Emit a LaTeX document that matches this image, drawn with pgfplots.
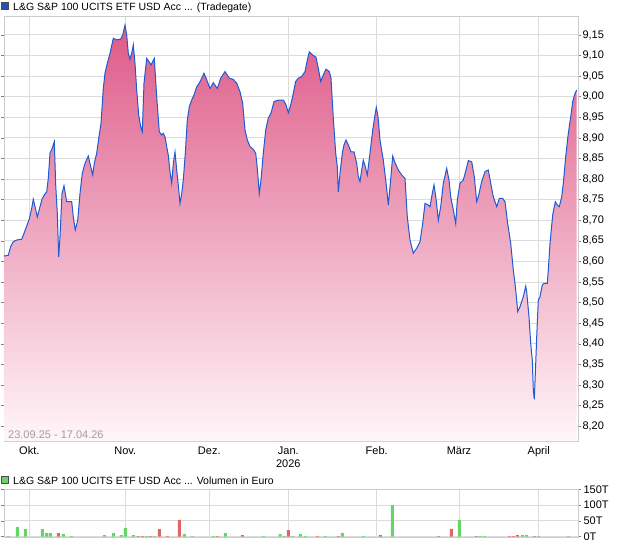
\documentclass[border=0pt]{standalone}
\usepackage{fontspec}
\setmainfont{Liberation Sans}
\usepackage{pgfplots}
\pgfplotsset{compat=1.18}
\definecolor{gridgray}{HTML}{DCDCDC}
\definecolor{framegray}{HTML}{CCCCCC}
\definecolor{linecol}{HTML}{1E5AD2}
\definecolor{pinktop}{HTML}{DE5A88}
\definecolor{pinkbot}{HTML}{FFF6F9}
\definecolor{volgreen}{HTML}{66D466}
\definecolor{volred}{HTML}{E06666}
\definecolor{legblue}{HTML}{1F50C0}
\definecolor{datetext}{HTML}{A0A0A0}
\begin{document}
\begin{tikzpicture}[font=\fontsize{11}{13}\selectfont]
\useasboundingbox (0,0) rectangle (620pt,546pt);
% legend main
\fill[legblue,draw=black!70,line width=0.4pt] (1.5pt,536.5pt) rectangle (8.5pt,543.5pt);
\node[anchor=base west,inner sep=0pt,font=\fontsize{10.5}{12}\selectfont] at (13pt,535.5pt) {L\&G S\&P 100 UCITS ETF USD Acc ... (Tradegate)};
\begin{axis}[
  at={(4pt,105pt)}, anchor=south west, scale only axis,
  width=574pt, height=425pt,
  xmin=4, xmax=578, ymin=8.164, ymax=9.196,
  axis line style={draw=framegray},
  xtick={29.3,125.3,209.3,288.3,376.7,459,538.7},
  xticklabels={Okt.,Nov.,Dez.,{Jan.\\2026},Feb.,März,April},
  xticklabel style={align=center,font=\fontsize{11}{13}\selectfont, yshift=1pt},
  xtick style={draw=none},
  ytick={8.2,8.25,8.3,8.35,8.4,8.45,8.5,8.55,8.6,8.65,8.7,8.75,8.8,8.85,8.9,8.95,9.0,9.05,9.1,9.15},
  yticklabel pos=right,
  /pgf/number format/fixed,
  /pgf/number format/fixed zerofill,
  /pgf/number format/precision=2,
  /pgf/number format/use comma,
  /pgf/number format/assume math mode=true,
  yticklabel style={font=\fontsize{11}{13}\selectfont,anchor=west,xshift=-2pt},
  ytick style={draw=gray,line width=0.5pt},
  major tick length=3pt, tick align=outside,
  grid=major, major grid style={gridgray,line width=0.9pt},
  clip=true,
]
\addplot[draw=none, top color=pinktop, bottom color=pinkbot] coordinates {
(4,8.164)
(4,8.613) (8.3,8.615) (10.7,8.636) (13.3,8.648) (16.7,8.652) (21.7,8.654) (24,8.668) (26.7,8.686)
(29.3,8.703) (31.7,8.729) (33.3,8.751) (35,8.733) (37.3,8.708) (40,8.733) (42.3,8.753) (45,8.764)
(46.7,8.769) (48.3,8.802) (50,8.863) (52.3,8.875) (54.3,8.891) (55.7,8.786) (57.3,8.717) (58.7,8.611)
(60,8.660) (62,8.765) (64,8.784) (66.7,8.745) (69.3,8.745) (71.7,8.745) (73.3,8.708) (75.3,8.676)
(77.7,8.700) (80,8.765) (82.3,8.814) (85,8.838) (88.3,8.856) (90.7,8.830) (92.7,8.810) (94.3,8.838)
(96.7,8.863) (98.7,8.899) (101,8.935) (103.3,9.020) (105,9.057) (107.3,9.081) (110,9.105) (113.3,9.142)
(116.7,9.138) (120.7,9.140) (122.7,9.150) (125,9.174) (126.7,9.150) (128.3,9.105) (130,9.091) (132,9.109)
(133.3,9.126) (135,9.081) (136.7,9.016) (138.7,8.956) (140.7,8.927) (142.3,8.915) (144,9.033) (146.7,9.093)
(149,9.085) (151,9.077) (152.7,9.085) (154.3,9.093) (156.7,9.000) (159.3,8.915) (161.7,8.907) (163.3,8.911)
(165,8.903) (166.7,8.879) (168.3,8.858) (170,8.818) (171.7,8.790) (173.3,8.838) (175,8.866) (176.7,8.822)
(178.3,8.786) (180,8.741) (181.7,8.765) (183.3,8.798) (185.3,8.863) (187.3,8.943) (189.3,8.976) (191.7,8.992)
(194,9.004) (196.7,9.024) (199.3,9.033) (201.7,9.045) (204,9.057) (206.7,9.041) (210,9.020) (213.3,9.034)
(217.3,9.020) (220.7,9.045) (225,9.061) (229.3,9.045) (233.3,9.042) (236.7,9.033) (240,9.012) (242.7,8.984)
(245,8.919) (247.3,8.895) (250,8.879) (253.3,8.872) (255.7,8.863) (257.3,8.826) (259.3,8.765) (261,8.798)
(263.3,8.863) (265.7,8.919) (268.3,8.948) (271,8.960) (274,8.988) (278.3,8.992) (283.3,8.992) (286,8.980)
(288.3,8.961) (290.7,8.980) (293.3,9.008) (295.7,9.037) (298.3,9.045) (301.7,9.049) (305,9.061) (307.3,9.089)
(309.3,9.109) (312.7,9.101) (316,9.096) (318.3,9.069) (320.7,9.037) (323.3,9.053) (326,9.067) (329.3,9.061)
(331,9.045) (333.3,8.948) (335.7,8.863) (337.3,8.830) (338.3,8.769) (340,8.814) (342.3,8.863) (344,8.883)
(346,8.895) (349,8.879) (351,8.866) (354,8.866) (356.7,8.838) (358.3,8.806) (360,8.794) (361.7,8.822)
(363.3,8.846) (365.3,8.830) (367.3,8.810) (370,8.863) (372.7,8.919) (374.7,8.951) (376.3,8.974) (378,8.951)
(380,8.895) (383.3,8.846) (386.7,8.777) (388.3,8.737) (390,8.781) (392.7,8.856) (395,8.840) (398.3,8.822)
(401.7,8.810) (405,8.802) (407.3,8.708) (410,8.652) (413.3,8.620) (416.7,8.632) (420,8.648) (422.7,8.692)
(425,8.741) (428.3,8.737) (430,8.733) (432.3,8.765) (434,8.786) (436,8.753) (438.3,8.700) (440.7,8.733)
(443.3,8.790) (446.7,8.826) (449,8.798) (450.7,8.757) (453.3,8.725) (455.7,8.692) (457.3,8.749) (460,8.790)
(463.3,8.798) (466,8.822) (468.3,8.845) (471.7,8.842) (474.3,8.806) (476.7,8.745) (478.3,8.757) (481.7,8.794)
(485,8.818) (488.3,8.822) (491,8.786) (493.3,8.757) (496.7,8.733) (499.3,8.753) (502.7,8.753) (505,8.745)
(507.7,8.692) (510.7,8.644) (513.3,8.579) (515,8.547) (516.7,8.506) (517.7,8.478) (520,8.490) (523.3,8.514)
(525.7,8.540) (526.7,8.526) (529,8.465) (530.7,8.401) (532.3,8.360) (533.3,8.287) (534.3,8.265) (535.7,8.352)
(536.7,8.417) (538.3,8.506) (540,8.514) (542.3,8.543) (544,8.547) (547.3,8.547) (548.3,8.579) (550,8.644)
(552.7,8.713) (555.3,8.745) (557.3,8.737) (559.3,8.733) (561.7,8.757) (563.3,8.790) (565.7,8.854) (568.3,8.911)
(570.7,8.951) (572.7,8.988) (575,9.008) (576.7,9.016)
(576.7,8.164)
};
\addplot[linecol, line width=1pt] coordinates {
(4,8.613) (8.3,8.615) (10.7,8.636) (13.3,8.648) (16.7,8.652) (21.7,8.654) (24,8.668) (26.7,8.686)
(29.3,8.703) (31.7,8.729) (33.3,8.751) (35,8.733) (37.3,8.708) (40,8.733) (42.3,8.753) (45,8.764)
(46.7,8.769) (48.3,8.802) (50,8.863) (52.3,8.875) (54.3,8.891) (55.7,8.786) (57.3,8.717) (58.7,8.611)
(60,8.660) (62,8.765) (64,8.784) (66.7,8.745) (69.3,8.745) (71.7,8.745) (73.3,8.708) (75.3,8.676)
(77.7,8.700) (80,8.765) (82.3,8.814) (85,8.838) (88.3,8.856) (90.7,8.830) (92.7,8.810) (94.3,8.838)
(96.7,8.863) (98.7,8.899) (101,8.935) (103.3,9.020) (105,9.057) (107.3,9.081) (110,9.105) (113.3,9.142)
(116.7,9.138) (120.7,9.140) (122.7,9.150) (125,9.174) (126.7,9.150) (128.3,9.105) (130,9.091) (132,9.109)
(133.3,9.126) (135,9.081) (136.7,9.016) (138.7,8.956) (140.7,8.927) (142.3,8.915) (144,9.033) (146.7,9.093)
(149,9.085) (151,9.077) (152.7,9.085) (154.3,9.093) (156.7,9.000) (159.3,8.915) (161.7,8.907) (163.3,8.911)
(165,8.903) (166.7,8.879) (168.3,8.858) (170,8.818) (171.7,8.790) (173.3,8.838) (175,8.866) (176.7,8.822)
(178.3,8.786) (180,8.741) (181.7,8.765) (183.3,8.798) (185.3,8.863) (187.3,8.943) (189.3,8.976) (191.7,8.992)
(194,9.004) (196.7,9.024) (199.3,9.033) (201.7,9.045) (204,9.057) (206.7,9.041) (210,9.020) (213.3,9.034)
(217.3,9.020) (220.7,9.045) (225,9.061) (229.3,9.045) (233.3,9.042) (236.7,9.033) (240,9.012) (242.7,8.984)
(245,8.919) (247.3,8.895) (250,8.879) (253.3,8.872) (255.7,8.863) (257.3,8.826) (259.3,8.765) (261,8.798)
(263.3,8.863) (265.7,8.919) (268.3,8.948) (271,8.960) (274,8.988) (278.3,8.992) (283.3,8.992) (286,8.980)
(288.3,8.961) (290.7,8.980) (293.3,9.008) (295.7,9.037) (298.3,9.045) (301.7,9.049) (305,9.061) (307.3,9.089)
(309.3,9.109) (312.7,9.101) (316,9.096) (318.3,9.069) (320.7,9.037) (323.3,9.053) (326,9.067) (329.3,9.061)
(331,9.045) (333.3,8.948) (335.7,8.863) (337.3,8.830) (338.3,8.769) (340,8.814) (342.3,8.863) (344,8.883)
(346,8.895) (349,8.879) (351,8.866) (354,8.866) (356.7,8.838) (358.3,8.806) (360,8.794) (361.7,8.822)
(363.3,8.846) (365.3,8.830) (367.3,8.810) (370,8.863) (372.7,8.919) (374.7,8.951) (376.3,8.974) (378,8.951)
(380,8.895) (383.3,8.846) (386.7,8.777) (388.3,8.737) (390,8.781) (392.7,8.856) (395,8.840) (398.3,8.822)
(401.7,8.810) (405,8.802) (407.3,8.708) (410,8.652) (413.3,8.620) (416.7,8.632) (420,8.648) (422.7,8.692)
(425,8.741) (428.3,8.737) (430,8.733) (432.3,8.765) (434,8.786) (436,8.753) (438.3,8.700) (440.7,8.733)
(443.3,8.790) (446.7,8.826) (449,8.798) (450.7,8.757) (453.3,8.725) (455.7,8.692) (457.3,8.749) (460,8.790)
(463.3,8.798) (466,8.822) (468.3,8.845) (471.7,8.842) (474.3,8.806) (476.7,8.745) (478.3,8.757) (481.7,8.794)
(485,8.818) (488.3,8.822) (491,8.786) (493.3,8.757) (496.7,8.733) (499.3,8.753) (502.7,8.753) (505,8.745)
(507.7,8.692) (510.7,8.644) (513.3,8.579) (515,8.547) (516.7,8.506) (517.7,8.478) (520,8.490) (523.3,8.514)
(525.7,8.540) (526.7,8.526) (529,8.465) (530.7,8.401) (532.3,8.360) (533.3,8.287) (534.3,8.265) (535.7,8.352)
(536.7,8.417) (538.3,8.506) (540,8.514) (542.3,8.543) (544,8.547) (547.3,8.547) (548.3,8.579) (550,8.644)
(552.7,8.713) (555.3,8.745) (557.3,8.737) (559.3,8.733) (561.7,8.757) (563.3,8.790) (565.7,8.854) (568.3,8.911)
(570.7,8.951) (572.7,8.988) (575,9.008) (576.7,9.016)
};
\node[anchor=base west,inner sep=0pt,text=datetext] at (rel axis cs:0,0) [xshift=4pt,yshift=3pt] {23.09.25 - 17.04.26};
\end{axis}
% volume legend
\fill[volgreen,draw=black!70,line width=0.4pt] (1.5pt,62.5pt) rectangle (8.5pt,69.5pt);
\node[anchor=base west,inner sep=0pt,font=\fontsize{10.5}{12}\selectfont] at (13pt,62pt) {L\&G S\&P 100 UCITS ETF USD Acc ... Volumen in Euro};
\begin{axis}[
  at={(4pt,9.3pt)}, anchor=south west, scale only axis,
  width=574pt, height=47.4pt,
  xmin=4, xmax=578, ymin=0, ymax=150,
  axis line style={draw=framegray},
  xtick={29.3,125.3,209.3,288.3,376.7,459,538.7},
  xticklabels={},
  xtick style={draw=none},
  ytick={0,50,100,150},
  yticklabels={0T,50T,100T,150T},
  yticklabel pos=right,
  yticklabel style={font=\fontsize{11}{13}\selectfont,anchor=west,xshift=-1pt},
  ytick style={draw=gray,line width=0.5pt},
  major tick length=3pt, tick align=outside,
  grid=major, major grid style={gridgray,line width=0.9pt},
]
\addplot[ybar, bar width=3pt, bar shift=0pt, fill=volgreen, draw=none] coordinates {
(8.3,2) (17.3,30) (25.3,24) (42.3,24) (46.7,11.6) (50.3,11.6) (63.3,8.5) (71.3,2) (104.3,5)
(113.3,11.6) (121.3,5) (125.3,27.5) (133.3,5) (146.3,2) (154.3,2) (184.3,8.5) (192.3,2) (213.3,2)
(225.3,11.6) (263.3,2) (280,8.5) (284.3,2) (292.3,2) (300.3,8.5) (305.3,2) (325.3,2) (342.3,11.6)
(363.3,2) (392.3,100) (459.3,53) (480.3,2) (484.3,2) (522.3,5) (526.7,5) (538.7,2) (568.3,2)
};
\addplot[ybar, bar width=3pt, bar shift=0pt, fill=volred, draw=none] coordinates {
(58.3,11.6) (138,2) (142.3,2) (150.3,2) (159.3,24) (167.3,2) (179.3,53) (217.3,2) (242.3,5)
(288.3,21) (317.3,2) (338.3,2) (380.3,5) (438.3,2) (451.3,25) (476.3,2) (509.3,2) (513.3,2)
(517.3,5) (534.3,2)
};
\end{axis}
\end{tikzpicture}
\end{document}
